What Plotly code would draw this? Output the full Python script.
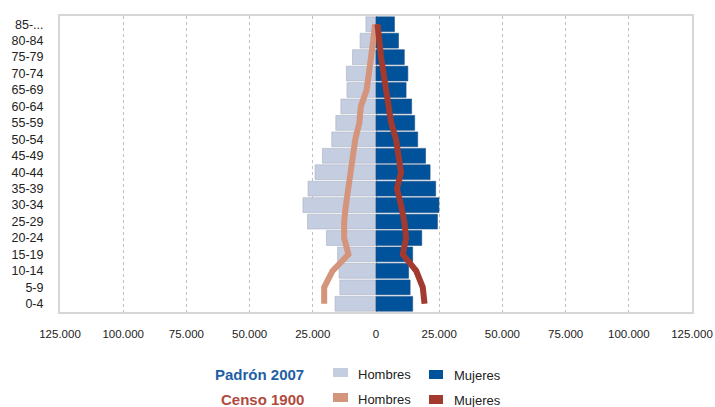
import plotly.graph_objects as go

age_groups = ["0-4", "5-9", "10-14", "15-19", "20-24", "25-29", "30-34", "35-39",
              "40-44", "45-49", "50-54", "55-59", "60-64", "65-69", "70-74",
              "75-79", "80-84", "85-..."]

hombres_2007 = [16200, 14300, 14600, 15200, 19600, 27100, 28900, 26900,
                24100, 21200, 17500, 15900, 13900, 11500, 11700, 9300, 6300, 4000]
mujeres_2007 = [14500, 13500, 12900, 14500, 18100, 24300, 24900, 23600,
                21400, 19600, 16500, 15300, 14100, 11900, 12600, 11200, 8900, 7300]
hombres_1900 = [20500, 20500, 17200, 10900, 12600, 12600, 11900, 10900,
                9900, 8900, 8200, 6600, 6000, 3700, 2700, 2000, 1100, 400]
mujeres_1900 = [19200, 18500, 15900, 10600, 11900, 11200, 9900, 8300,
                9900, 8900, 7900, 6000, 5000, 3700, 2600, 2000, 1300, 600]

tick_vals = [-125000, -100000, -75000, -50000, -25000, 0, 25000, 50000, 75000, 100000, 125000]
tick_text = ["125.000", "100.000", "75.000", "50.000", "25.000", "0",
             "25.000", "50.000", "75.000", "100.000", "125.000"]

C_H07 = "#c5cde0"
C_M07 = "#00529b"
C_H00 = "#d4957c"
C_M00 = "#a23a30"

fig = go.Figure()
fig.add_trace(go.Bar(y=age_groups, x=[-v for v in hombres_2007], orientation="h",
                     name="Hombres 2007", marker=dict(color=C_H07, line=dict(color="#a9b1c2", width=0.6)),
                     showlegend=False))
fig.add_trace(go.Bar(y=age_groups, x=mujeres_2007, orientation="h",
                     name="Mujeres 2007", marker=dict(color=C_M07, line=dict(color="#1b4f85", width=0.6)),
                     showlegend=False))
fig.add_trace(go.Scatter(y=age_groups, x=[-v for v in hombres_1900], mode="lines",
                         name="Hombres 1900", line=dict(color=C_H00, width=6),
                         showlegend=False))
fig.add_trace(go.Scatter(y=age_groups, x=mujeres_1900, mode="lines",
                         name="Mujeres 1900", line=dict(color=C_M00, width=6),
                         showlegend=False))

font_family = "Arial, Liberation Sans, sans-serif"

W, H = 715, 407
PLOT_L, PLOT_R, PLOT_T, PLOT_B = 60, 692, 16, 312
PW = PLOT_R - PLOT_L
PH = PLOT_B - PLOT_T


def px(x):
    return (x - PLOT_L) / PW


def py(y):
    return (PLOT_B - y) / PH


fig.update_layout(
    width=W, height=H,
    margin=dict(l=PLOT_L, r=W - PLOT_R, t=PLOT_T, b=H - PLOT_B, autoexpand=False),
    barmode="relative",
    bargap=0.1,
    plot_bgcolor="white",
    paper_bgcolor="white",
    font=dict(family=font_family, size=12, color="#222"),
    xaxis=dict(range=[-125000, 125000], tickvals=tick_vals, ticktext=tick_text,
               showgrid=True, gridcolor="#c0c0c0", griddash="dot", gridwidth=1,
               zeroline=False, showline=True, linecolor="#d6d6d6", linewidth=2, mirror=True,
               ticks="", ticklabelstandoff=10, tickfont=dict(size=11.5, color="#222"),
               automargin=False, fixedrange=True),
    yaxis=dict(showgrid=False, zeroline=False, showline=True, linecolor="#d6d6d6",
               linewidth=2, mirror=True, ticks="", ticklabelstandoff=12,
               tickfont=dict(size=12.5, color="#222"), automargin=False,
               range=[-0.5, 17.5], fixedrange=True),
)

# Custom legend (two rows): (title, title colour, men colour, women colour, row centre y px)
legend_rows = [
    ("Padrón 2007", "#1f5fa6", C_H07, C_M07, 374),
    ("Censo 1900", "#b04a3c", C_H00, C_M00, 399),
]
for title, tcolor, ch, cm, yc in legend_rows:
    fig.add_annotation(xref="paper", yref="paper", x=px(306), y=py(yc),
                       text=f"<b>{title}</b>", showarrow=False, xanchor="right",
                       yanchor="middle", font=dict(size=15, color=tcolor))
    fig.add_shape(type="rect", xref="paper", yref="paper",
                  x0=px(333), x1=px(348), y0=py(yc + 3), y1=py(yc - 6),
                  fillcolor=ch, line=dict(width=0))
    fig.add_annotation(xref="paper", yref="paper", x=px(356), y=py(yc),
                       text="Hombres", showarrow=False, xanchor="left",
                       yanchor="middle", font=dict(size=13, color="#222"))
    fig.add_shape(type="rect", xref="paper", yref="paper",
                  x0=px(429), x1=px(443), y0=py(yc + 5), y1=py(yc - 4),
                  fillcolor=cm, line=dict(width=0))
    fig.add_annotation(xref="paper", yref="paper", x=px(452), y=py(yc + 1.5),
                       text="Mujeres", showarrow=False, xanchor="left",
                       yanchor="middle", font=dict(size=13, color="#222"))

# Remove the default page margin so the figure sits at the window's top-left corner.
fig.write_html("out.html",
               config={"displayModeBar": False},
               post_script="document.body.style.margin='0';"
                           "document.documentElement.style.overflow='hidden';"
                           "document.body.style.overflow='hidden';")
